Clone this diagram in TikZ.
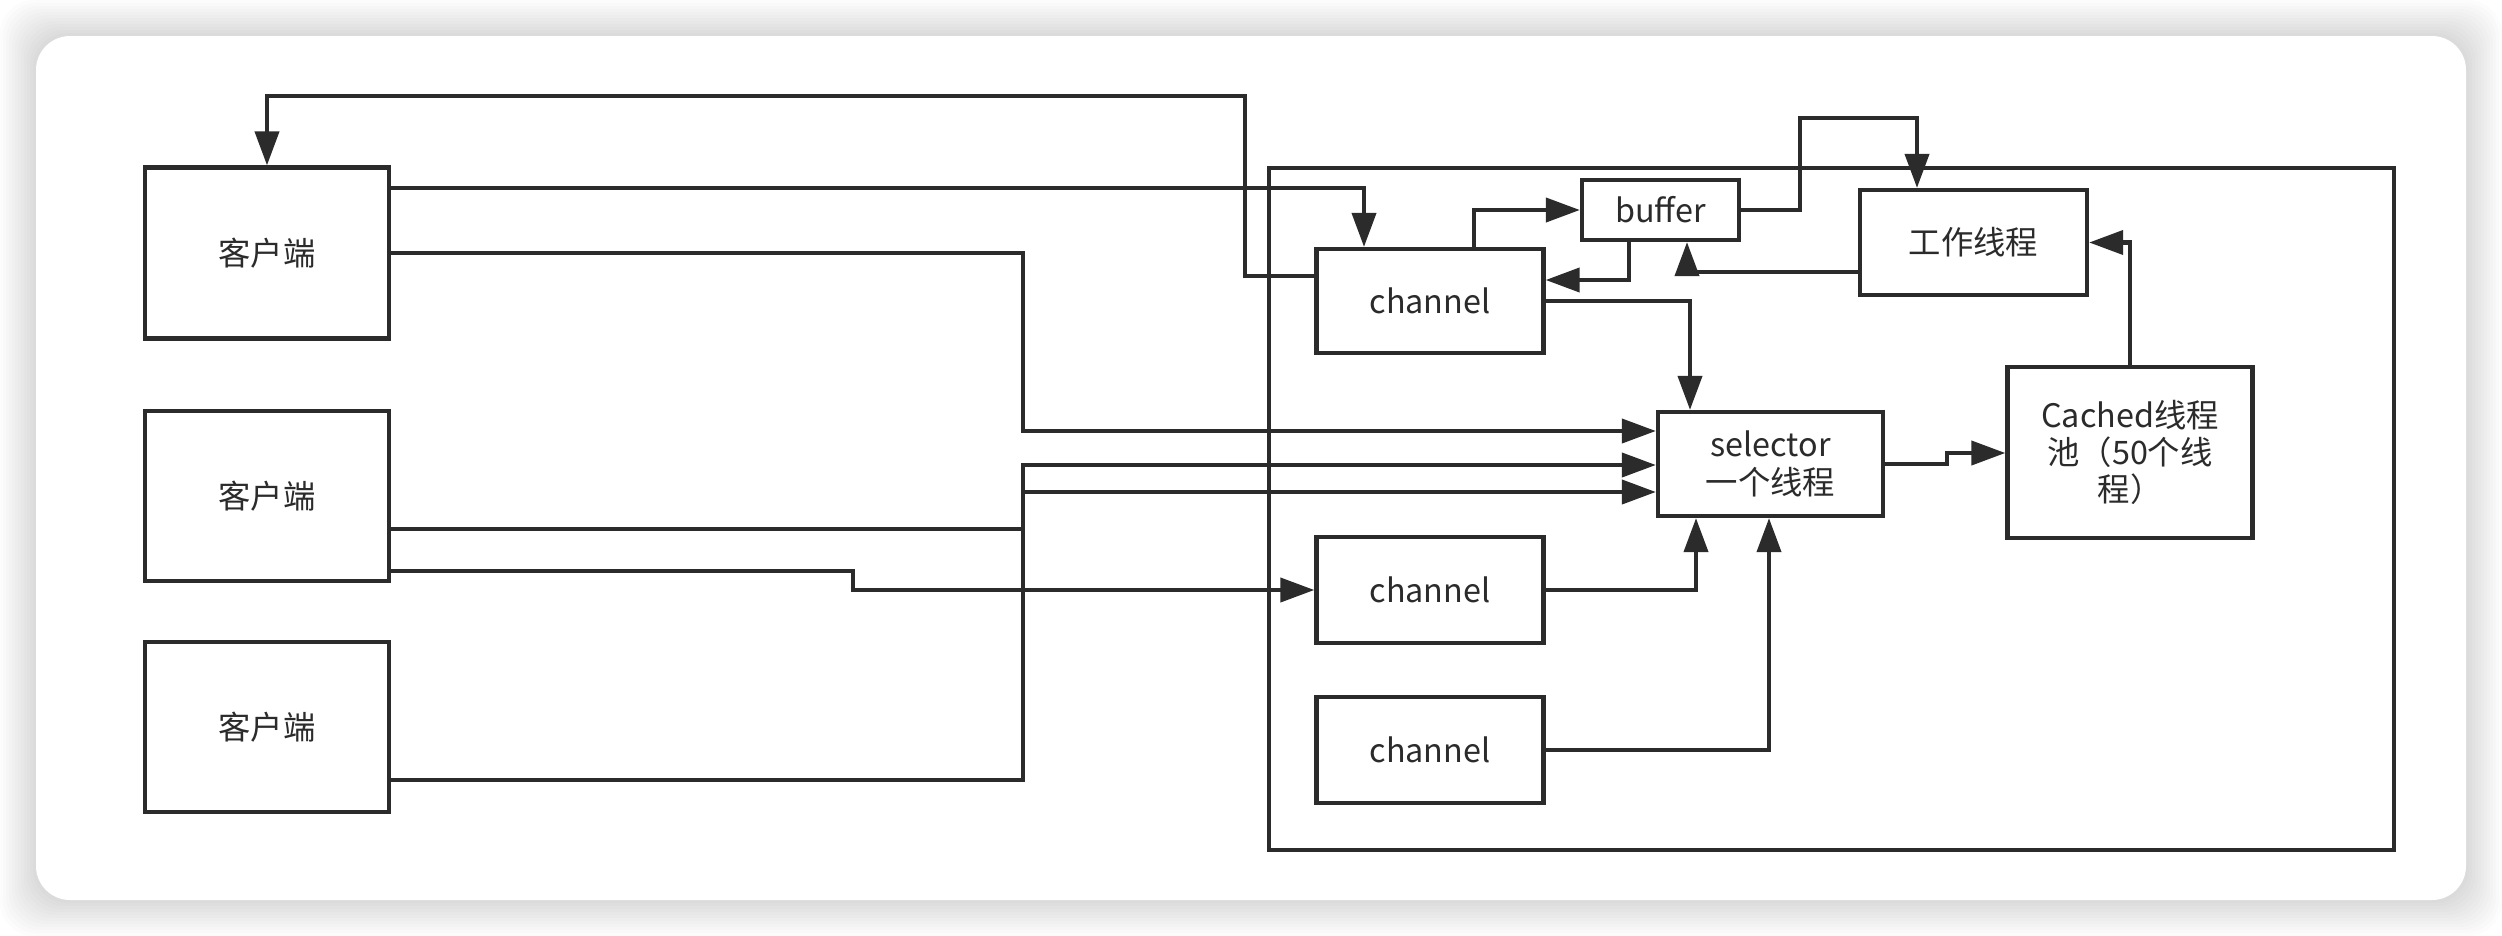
\documentclass[tikz,border=0pt]{standalone}
\usepackage{fontspec}
\setmainfont{Noto Sans CJK SC}
\usetikzlibrary{arrows.meta}
\definecolor{ink}{HTML}{2B2B2B}
\begin{document}
\begin{tikzpicture}[x=0.01cm,y=-0.01cm,
  box/.style={draw=ink,line width=1.2pt,inner sep=0pt,fill=white,align=center,
    font=\fontsize{9.2pt}{10.6pt}\selectfont,text=ink},
  conn/.style={draw=ink,line width=1.15pt},
  arr/.style={conn,-{Triangle[length=0.34cm,width=0.24cm]}}]
\useasboundingbox (0,0) rectangle (2502,936);
\fill[white] (0,0) rectangle (2502,936);
\foreach \e in {3,6,...,36}
  \fill[black,fill opacity=0.013,rounded corners=0.34cm] (36-\e,36-\e) rectangle (2466+\e,900+\e);
\fill[white,rounded corners=0.34cm] (36,36) rectangle (2466,900);

% container
\node[box,fill=none,minimum width=11.25cm,minimum height=6.82cm] (srv) at (1831.5,509) {};

% clients
\node[box,minimum width=2.44cm,minimum height=1.71cm] (c1) at (267,253) {客户端};
\node[box,minimum width=2.44cm,minimum height=1.70cm] (c2) at (267,496) {客户端};
\node[box,minimum width=2.44cm,minimum height=1.70cm] (c3) at (267,727) {客户端};

% server side
\node[box,minimum width=2.27cm,minimum height=1.04cm] (ch1) at (1430,301) {channel};
\node[box,minimum width=1.57cm,minimum height=0.60cm] (buf) at (1660.5,210) {buffer};
\node[box,minimum width=2.27cm,minimum height=1.05cm] (work) at (1973.5,242.5) {工作线程};
\node[box,minimum width=2.25cm,minimum height=1.04cm] (sel) at (1770.5,464) {selector\\一个线程};
\node[box,minimum width=2.45cm,minimum height=1.71cm] (pool) at (2130,452.5) {Cached线程\\池（50个线\\程）};
\node[box,minimum width=2.27cm,minimum height=1.06cm] (ch2) at (1430,590) {channel};
\node[box,minimum width=2.27cm,minimum height=1.06cm] (ch3) at (1430,750) {channel};

% connectors
\draw[arr] (ch1.west |- 0,276) -| (1245,96) -| (c1.north);
\draw[arr] (c1.east |- 0,188) -| (ch1.north -| 1364,0);
\draw[arr] (c1.east |- 0,253) -| (1023,431) -- (sel.west |- 0,431);
\draw[arr] (c2.east |- 0,529) -| (1023,492) -- (sel.west |- 0,492);
\draw[arr] (c3.east |- 0,780) -| (1023,465) -- (sel.west |- 0,465);
\draw[arr] (c2.east |- 0,571) -- (853,571) -- (853,590) -- (ch2.west);

\draw[arr] (ch1.north -| 1474,0) |- (buf.west);
\draw[arr] (buf.south -| 1629,0) |- (ch1.east |- 0,280);
\draw[arr] (buf.east) -| (1800,118) -| (work.north -| 1917,0);
\draw[arr] (work.west |- 0,272) -| (buf.south -| 1687,0);
\draw[arr] (ch1.east) -| (sel.north -| 1690,0);
\draw[arr] (ch2.east) -| (sel.south -| 1696,0);
\draw[arr] (ch3.east) -| (sel.south -| 1769,0);
\draw[arr] (sel.east) -- (1947,464) -- (1947,453) -- (pool.west |- 0,453);
\draw[arr] (pool.north) |- (work.east);
\end{tikzpicture}
\end{document}
